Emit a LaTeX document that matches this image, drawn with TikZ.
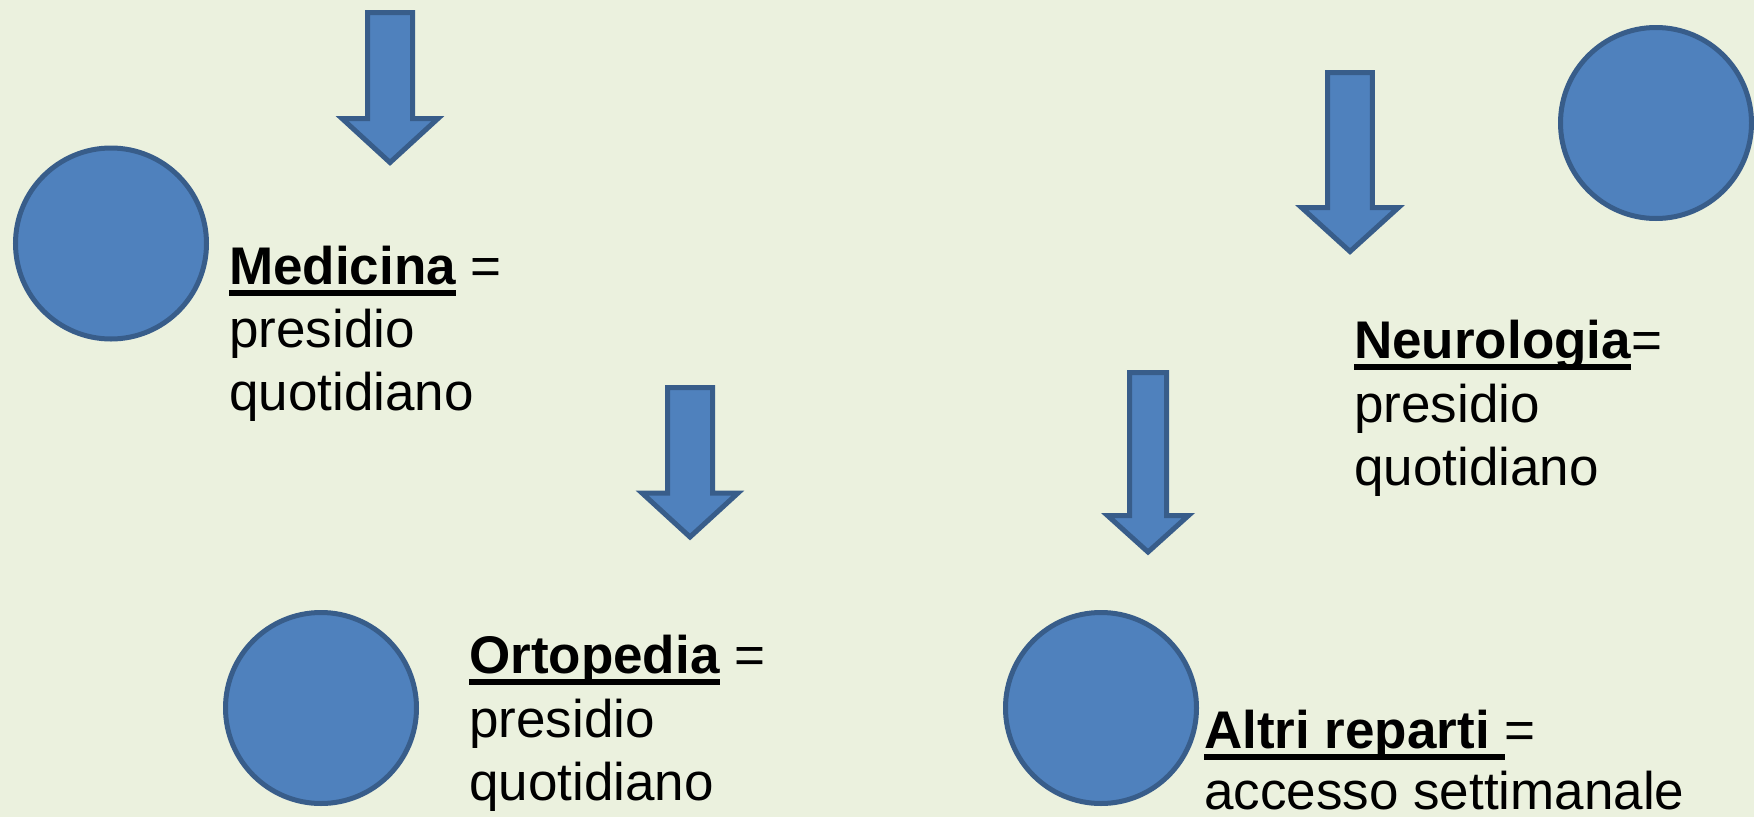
\documentclass[tikz,border=0pt]{standalone}
\usepackage{fontspec}
\setmainfont{Liberation Sans}
\definecolor{bg}{HTML}{EBF1DE}
\definecolor{bfill}{HTML}{4F81BD}
\definecolor{bline}{HTML}{385D8A}
\newcommand\ulbox[1]{\setbox0=\hbox{#1}\rlap{\rule[-12pt]{\wd0}{5.7pt}}\box0\relax}
\newcommand\blockarrow[6]{%
  \draw[bshape] ({#1-#3},#2) -- ({#1+#3},#2) -- ({#1+#3},#5) -- ({#1+#4},#5)
    -- (#1,#6) -- ({#1-#4},#5) -- ({#1-#3},#5) -- cycle;}
\begin{document}
\begin{tikzpicture}[x=1pt,y=-1pt,
  bshape/.style={fill=bfill,draw=bline,line width=5pt,line join=miter},
  disc/.style={circle,fill=bfill,draw=bline,line width=5pt,inner sep=0pt,minimum size=191pt},
  txt/.style={anchor=base west,inner sep=0pt,font=\fontsize{53}{63}\selectfont}]
\useasboundingbox (0,0) rectangle (1754,817);
\fill[bg] (0,0) rectangle (1754,817);

% block arrows
\blockarrow{390}{12.5}{22.5}{48}{118.5}{162.5}
\blockarrow{690}{387.5}{22.5}{48}{493}{537}
\blockarrow{1350}{72.5}{22.3}{48.5}{207.5}{251.5}
\blockarrow{1148}{372.5}{18.5}{40.5}{515.5}{552}

% discs
\node[disc] (c1) at (111,243.5) {};
\node[disc] (c2) at (321,708) {};
\node[disc] (c3) at (1656,123) {};
\node[disc] (c4) at (1101,708) {};

% texts
\node[txt] (med1) at (229,284) {\ulbox{\bfseries Medicina} =};
\node[txt] (med2) at (229,347) {presidio};
\node[txt] (med3) at (229,410) {quotidiano};

\node[txt] (neu1) at (1354,358) {\ulbox{\bfseries Neurologia}=};
\node[txt] (neu2) at (1354,422) {presidio};
\node[txt] (neu3) at (1354,485) {quotidiano};

\node[txt] (ort1) at (469,673) {\ulbox{\bfseries Ortopedia} =};
\node[txt] (ort2) at (469,737) {presidio};
\node[txt] (ort3) at (469,800) {quotidiano};

\node[txt] (alt1) at (1204,748) {\ulbox{\bfseries Altri reparti\ }=};
\node[txt] (alt2) at (1204,809) {accesso settimanale};
\end{tikzpicture}
\end{document}
